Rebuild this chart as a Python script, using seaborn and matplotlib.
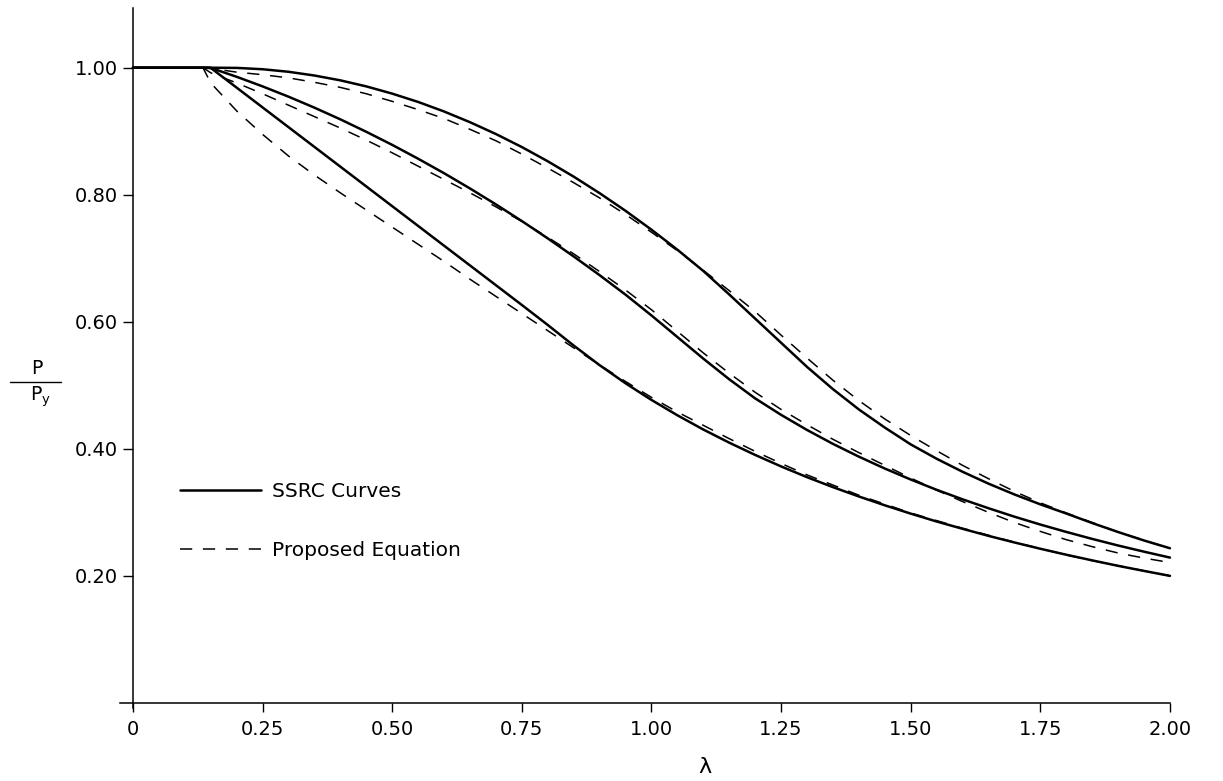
import matplotlib
matplotlib.use("Agg")
import matplotlib.pyplot as plt
from matplotlib.lines import Line2D
import pandas as pd
import seaborn as sns

# ---- data ----
lam = [0.0, 0.135, 0.15, 0.20, 0.25, 0.30, 0.35, 0.40, 0.45, 0.50, 0.55, 0.60,
       0.65, 0.70, 0.75, 0.80, 0.85, 0.90, 0.95, 1.00, 1.05, 1.10, 1.15, 1.20,
       1.25, 1.30, 1.35, 1.40, 1.45, 1.50, 1.55, 1.60, 1.65, 1.70, 1.75, 1.80,
       1.85, 1.90, 1.95, 2.00]

ssrc_1 = [1.0, 1.0, 1.0, 0.9997, 0.9976, 0.9936, 0.9877, 0.9801, 0.9706, 0.9592,
          0.9461, 0.9311, 0.9142, 0.8956, 0.8751, 0.8527, 0.8285, 0.8025, 0.7747,
          0.745, 0.7135, 0.680, 0.643, 0.605, 0.567, 0.529, 0.494, 0.462, 0.4335,
          0.407, 0.3844, 0.3639, 0.3452, 0.3282, 0.3126, 0.2982, 0.2832, 0.269,
          0.2557, 0.2435]
ssrc_2 = [1.0, 1.0, 0.9997, 0.9857, 0.9706, 0.9544, 0.9371, 0.9187, 0.8991, 0.8785,
          0.8567, 0.8339, 0.8099, 0.7848, 0.7586, 0.7313, 0.7029, 0.6734, 0.6427,
          0.610, 0.576, 0.542, 0.5095, 0.4794, 0.4535, 0.4297, 0.4078, 0.3877,
          0.369, 0.3517, 0.3355, 0.3205, 0.3065, 0.2932, 0.2808, 0.2692, 0.2582,
          0.2478, 0.2381, 0.2288]
ssrc_3 = [1.0, 1.0, 0.9997, 0.9686, 0.9375, 0.9064, 0.8753, 0.8442, 0.8131, 0.782,
          0.7509, 0.7198, 0.6887, 0.6576, 0.6265, 0.595, 0.5626, 0.5317, 0.5032,
          0.477, 0.4528, 0.4304, 0.4097, 0.3904, 0.3723, 0.3554, 0.3397, 0.325,
          0.3111, 0.298, 0.2856, 0.2741, 0.263, 0.2526, 0.2427, 0.2333, 0.2244,
          0.2158, 0.2078, 0.200]

prop_1 = [1.0, 1.0, 0.999, 0.993, 0.989, 0.984, 0.977, 0.969, 0.959, 0.947,
          0.934, 0.920, 0.903, 0.885, 0.864, 0.842, 0.819, 0.795, 0.769,
          0.741, 0.712, 0.681, 0.649, 0.616, 0.579, 0.543, 0.508, 0.476, 0.447,
          0.421, 0.397, 0.374, 0.353, 0.333, 0.315, 0.299, 0.284, 0.269,
          0.256, 0.243]
prop_2 = [1.0, 1.0, 0.992, 0.976, 0.959, 0.941, 0.923, 0.905, 0.886, 0.866,
          0.845, 0.824, 0.803, 0.781, 0.758, 0.733, 0.707, 0.679, 0.650,
          0.619, 0.585, 0.551, 0.519, 0.489, 0.462, 0.438, 0.415, 0.394, 0.374,
          0.354, 0.335, 0.317, 0.300, 0.284, 0.270, 0.257, 0.246, 0.236,
          0.228, 0.221]
prop_3 = [1.0, 1.0, 0.976, 0.932, 0.895, 0.861, 0.831, 0.803, 0.776, 0.749,
          0.722, 0.695, 0.667, 0.640, 0.613, 0.586, 0.559, 0.532, 0.506,
          0.481, 0.458, 0.437, 0.416, 0.396, 0.377, 0.359, 0.343, 0.327, 0.313,
          0.299, 0.287, 0.275, 0.264, 0.253, 0.243, 0.233, 0.224, 0.216,
          0.208, 0.200]

series_names = ["SSRC Curves", "Proposed Equation"]
x_ticks = [0, 0.25, 0.5, 0.75, 1.0, 1.25, 1.5, 1.75, 2.0]
x_tick_labels = ["0", "0.25", "0.50", "0.75", "1.00", "1.25", "1.50", "1.75", "2.00"]
y_ticks = [0.2, 0.4, 0.6, 0.8, 1.0]
y_tick_labels = ["0.20", "0.40", "0.60", "0.80", "1.00"]

# ---- long-form table ----
rows = []
for cid, (s, d) in enumerate(zip([ssrc_1, ssrc_2, ssrc_3],
                                 [prop_1, prop_2, prop_3]), start=1):
    for l, v in zip(lam, s):
        rows.append((series_names[0], cid, l, v))
    for l, v in zip(lam, d):
        rows.append((series_names[1], cid, l, v))
df = pd.DataFrame(rows, columns=["source", "curve", "lam", "P"])

sns.set_style("ticks")
plt.rcParams["font.family"] = ["DejaVu Sans"]
plt.rcParams["mathtext.default"] = "regular"
plt.rcParams["text.color"] = "black"
plt.rcParams["axes.labelcolor"] = "black"

W, H = 1223, 781
fig = plt.figure(figsize=(W / 100, H / 100), dpi=100)
x0, x1 = -0.025, 2.01
y0, y1 = -0.008, 1.094
ppu_x = 518.5
ax = fig.add_axes([120 / W, 1 - 708 / H, (x1 - x0) * ppu_x / W, 700 / H])

dash_lw = 1.1
solid_lw = 1.8
sns.lineplot(data=df[df.source == series_names[1]], x="lam", y="P",
             units="curve", estimator=None, color="black", linewidth=dash_lw,
             linestyle=(0, (8, 7)), legend=False, ax=ax)
sns.lineplot(data=df[df.source == series_names[0]], x="lam", y="P",
             units="curve", estimator=None, color="black", linewidth=solid_lw,
             legend=False, ax=ax)

ax.set_xlim(x0, x1)
ax.set_ylim(y0, y1)
for side in ["top", "right"]:
    ax.spines[side].set_visible(False)
ax.spines["left"].set_position(("data", 0))
ax.spines["bottom"].set_position(("data", 0))
ax.spines["bottom"].set_bounds(x0, 2.0)
for side in ["left", "bottom"]:
    ax.spines[side].set_linewidth(1.1)
    ax.spines[side].set_color("black")

ax.set_xticks(x_ticks)
ax.set_xticklabels(x_tick_labels)
ax.set_yticks(y_ticks)
ax.set_yticklabels(y_tick_labels)
ax.tick_params(axis="x", direction="out", length=6.5, width=1.0, pad=6,
               labelsize=14, colors="black")
ax.tick_params(axis="y", direction="out", length=7.2, width=1.0, pad=3.6,
               labelsize=14, colors="black")

ax.set_xlabel("λ", fontsize=16, color="black")
ax.xaxis.set_label_coords((705 - 120) / ((x1 - x0) * ppu_x), (708 - 757) / 700)
ax.set_ylabel("")

# y-axis label as a stacked fraction P / P_y
fig.text(37 / W, 1 - 369 / H, "P", fontsize=13.5, ha="center", va="center",
         color="black")
fig.text(40 / W, 1 - 397 / H, "P$_{y}$", fontsize=13.5, ha="center", va="center",
         color="black")
fig.add_artist(Line2D([10 / W, 61 / W], [1 - 382 / H] * 2,
                      transform=fig.transFigure, color="black", lw=1.0))

handles = [Line2D([], [], color="black", lw=solid_lw),
           Line2D([], [], color="black", lw=dash_lw, linestyle=(0, (8, 7)))]
leg = ax.legend(handles, series_names, loc="center left",
                bbox_to_anchor=((180 - 120) / ((x1 - x0) * ppu_x), (708 - 521) / 700),
                frameon=False, handlelength=4.0, handletextpad=0.55,
                labelspacing=2.0, borderpad=0, borderaxespad=0, fontsize=14.5)
for t in leg.get_texts():
    t.set_color("black")

fig.savefig("out.png", dpi=100)
